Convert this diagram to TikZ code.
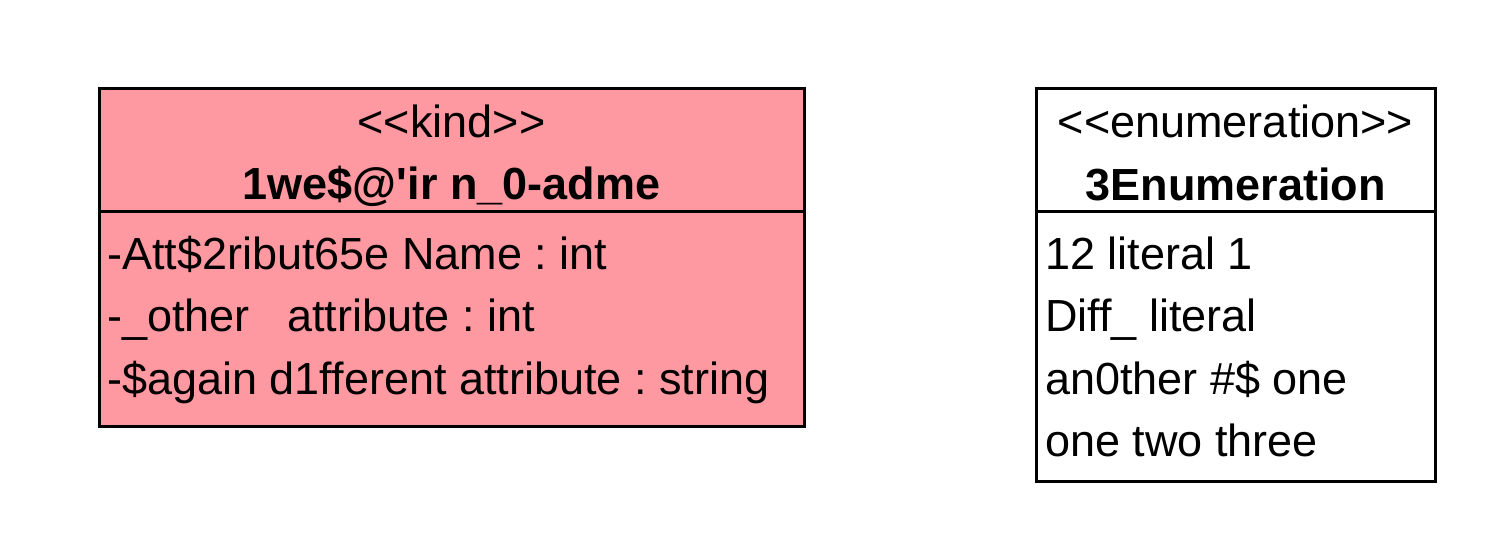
\documentclass[tikz,border=0pt]{standalone}
\usepackage{fontspec}
\setmainfont{Liberation Sans}
\definecolor{kindfill}{RGB}{255,153,161}
\begin{document}
\frenchspacing
\begin{tikzpicture}[x=1pt,y=-1pt,
  box/.style={draw=black,line width=3pt},
  txt/.style={inner sep=0pt,font=\fontsize{45}{54}\selectfont},
  hdr/.style={txt,anchor=base},
  row/.style={txt,anchor=base west}]
\useasboundingbox (0,0) rectangle (1492,558);
% class with stereotype <<kind>>
\draw[box,fill=kindfill] (99,88) rectangle (804,426);
\draw[box] (99,211) -- (804,211);
\node[hdr] (kst) at (451.5,137) {{<}{<}kind{>}{>}};
\node[hdr,font=\fontsize{45}{54}\selectfont\bfseries] (kname) at (451.5,199) {1we\$@\textquotesingle ir n\_0-adme};
\node[row] (a1) at (107,269) {-Att\$2ribut65e Name : int};
\node[row] (a2) at (107,331) {-\_other\ \ \ attribute : int};
\node[row] (a3) at (107,394) {-\$again d1fferent attribute : string};
% enumeration
\draw[box,fill=white] (1036,88) rectangle (1435,481);
\draw[box] (1036,211) -- (1435,211);
\node[hdr] (est) at (1235.5,137) {{<}{<}enumeration{>}{>}};
\node[hdr,font=\fontsize{45}{54}\selectfont\bfseries] (ename) at (1235.5,200) {3Enumeration};
\node[row] (l1) at (1045,269) {12 literal 1};
\node[row] (l2) at (1045,331) {Diff\_ literal};
\node[row] (l3) at (1045,394) {an0ther \#\$ one};
\node[row] (l4) at (1045,456) {one two three};
\end{tikzpicture}
\end{document}
